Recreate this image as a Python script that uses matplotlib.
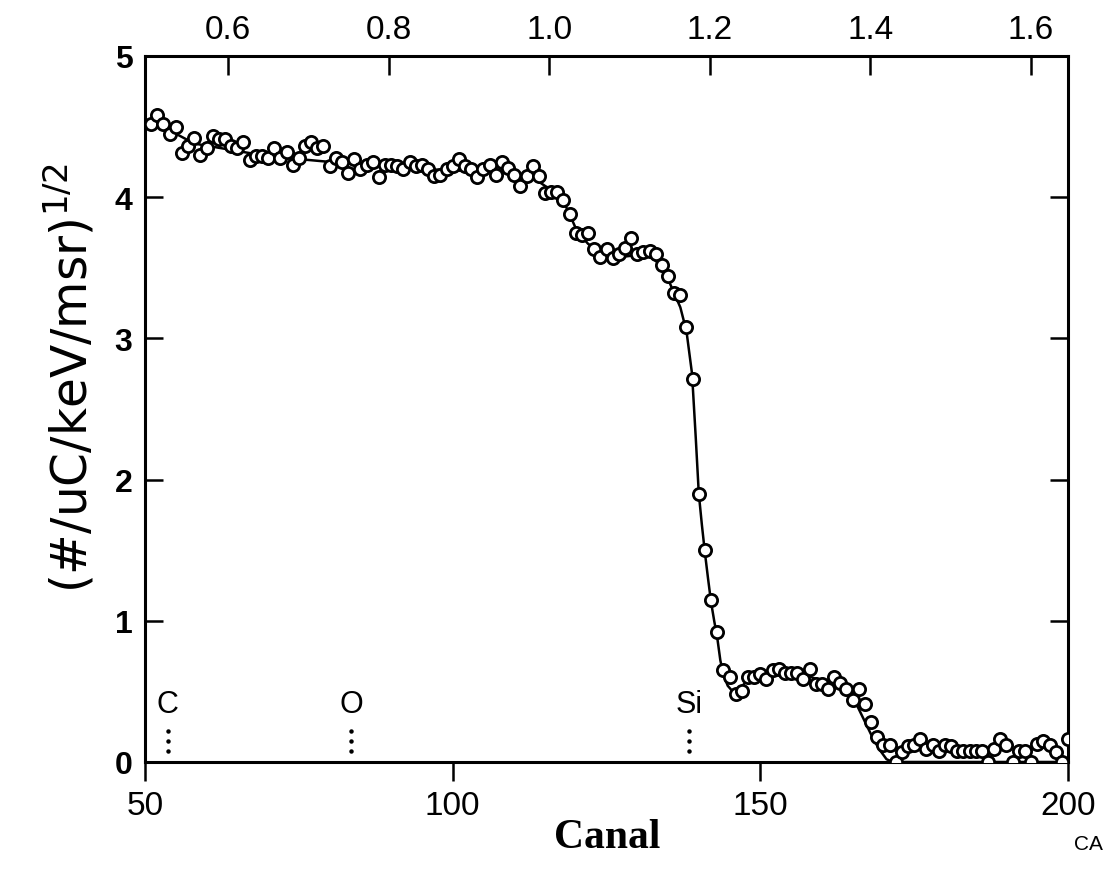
import numpy as np
import matplotlib
matplotlib.use("Agg")
import matplotlib.pyplot as plt

# measured spectrum, one point per channel (51..200)
channels = list(range(51, 201))
counts = [
    4.52, 4.58, 4.52, 4.45, 4.50, 4.31, 4.36, 4.42, 4.30, 4.35,
    4.43, 4.41, 4.41, 4.36, 4.35, 4.39, 4.26, 4.29, 4.29, 4.28,
    4.35, 4.28, 4.32, 4.23, 4.28, 4.36, 4.39, 4.35, 4.36, 4.22,
    4.28, 4.25, 4.17, 4.27, 4.20, 4.23, 4.25, 4.14, 4.23, 4.23,
    4.22, 4.20, 4.25, 4.22, 4.23, 4.20, 4.15, 4.16, 4.20, 4.22,
    4.27, 4.22, 4.20, 4.14, 4.20, 4.23, 4.16, 4.25, 4.21, 4.16,
    4.08, 4.15, 4.22, 4.15, 4.03, 4.04, 4.04, 3.98, 3.88, 3.75,
    3.73, 3.75, 3.63, 3.58, 3.63, 3.57, 3.60, 3.64, 3.71, 3.60,
    3.61, 3.62, 3.60, 3.52, 3.44, 3.32, 3.31, 3.08, 2.71, 1.90,
    1.50, 1.15, 0.92, 0.65, 0.60, 0.48, 0.50, 0.60, 0.60, 0.62,
    0.59, 0.65, 0.66, 0.63, 0.63, 0.63, 0.59, 0.66, 0.55, 0.55,
    0.52, 0.60, 0.56, 0.52, 0.44, 0.52, 0.41, 0.28, 0.18, 0.12,
    0.12, 0.00, 0.07, 0.11, 0.12, 0.16, 0.09, 0.12, 0.08, 0.12,
    0.11, 0.08, 0.08, 0.08, 0.08, 0.08, 0.00, 0.09, 0.16, 0.12,
    0.00, 0.08, 0.08, 0.00, 0.13, 0.15, 0.12, 0.07, 0.00, 0.16,
]

# simulated (fit) curve
fit_channels = [50, 52, 55, 58, 62, 66, 70, 75, 80, 85, 90, 95, 100, 105, 110,
                113, 115, 117, 118, 119, 120, 121, 122, 124, 126, 128, 130, 132,
                133, 134, 135, 136, 137, 138, 138.9, 139.5, 140, 140.5, 141,
                141.5, 142, 142.5, 143, 143.5, 144, 144.7, 145.5, 146.5, 147.5,
                149, 151, 153, 155, 157, 159, 161, 163, 164.5, 165.5, 166.5,
                167.5, 168.5, 169.5, 170.5, 171.5, 200]
fit_values = [4.55, 4.52, 4.45, 4.38, 4.35, 4.32, 4.29, 4.27, 4.25, 4.23, 4.21,
              4.20, 4.19, 4.18, 4.17, 4.14, 4.08, 4.03, 3.97, 3.88, 3.78, 3.72,
              3.67, 3.61, 3.58, 3.58, 3.59, 3.58, 3.55, 3.50, 3.42, 3.32, 3.22,
              3.05, 2.75, 2.30, 1.90, 1.68, 1.48, 1.30, 1.13, 1.00, 0.88, 0.72,
              0.62, 0.54, 0.50, 0.51, 0.56, 0.60, 0.63, 0.64, 0.64, 0.62, 0.59,
              0.56, 0.52, 0.48, 0.42, 0.33, 0.24, 0.15, 0.08, 0.02, 0.0, 0.0]

element_names = ["C", "O", "Si"]
element_channels = [53.7, 83.5, 138.4]

x_ticks = [50, 100, 150, 200]
y_ticks = [0, 1, 2, 3, 4, 5]
energy_ticks = [0.6, 0.8, 1.0, 1.2, 1.4, 1.6]


def ch_to_energy(ch):
    return 0.6 + (np.asarray(ch, dtype=float) - 63.5) * 0.2 / 26.1


def energy_to_ch(e):
    return 63.5 + (np.asarray(e, dtype=float) - 0.6) * 26.1 / 0.2


plt.rcParams['font.family'] = ['Liberation Sans', 'DejaVu Sans']

fig = plt.figure(figsize=(11.09, 8.79), dpi=100)
ax = fig.add_axes([145 / 1109, 1 - 763 / 879, (1068 - 145) / 1109, (763 - 57) / 879])

ax.plot(fit_channels, fit_values, color='black', lw=1.8, zorder=2)
ax.plot(channels, counts, 'o', mfc='white', mec='black', ms=8.8, mew=2.0, zorder=3)

# element surface positions
for name, ch in zip(element_names, element_channels):
    ax.plot([ch, ch, ch], [0.08, 0.15, 0.22], 'o', color='black', ms=2.2, zorder=4)
    ax.text(ch, 0.41, name, ha='center', va='center', fontsize=22)

ax.set_xlim(50, 200)
ax.set_ylim(0, 5)
ax.set_xticks(x_ticks)
ax.set_yticks(y_ticks)
ax.set_xticklabels([str(v) for v in x_ticks], fontsize=24)
ax.set_yticklabels([str(v) for v in y_ticks], fontsize=23, fontweight='bold')

for s in ax.spines.values():
    s.set_linewidth(2.2)

ax.tick_params(axis='x', direction='out', length=14, width=1.8, pad=6)
ax.tick_params(axis='y', direction='in', length=13, width=1.8, pad=9,
               right=True)

top = ax.secondary_xaxis('top', functions=(ch_to_energy, energy_to_ch))
top.set_xticks(energy_ticks)
top.set_xticklabels(['%.1f' % e for e in energy_ticks], fontsize=24)
top.tick_params(direction='in', length=14, width=1.8, pad=8)

fig.text(607 / 1109, 1 - 838 / 879, 'Canal', ha='center', va='center',
         fontsize=30, fontweight='bold', family='Liberation Serif')
fig.text(70 / 1109, 1 - 378 / 879, '(#/uC/keV/msr)$^{1/2}$', rotation=90,
         ha='center', va='center', fontsize=35, family='DejaVu Sans')
fig.text(1088 / 1109, 1 - 845 / 879, 'CA', ha='center', va='center', fontsize=15)

fig.savefig('out.png', dpi=100)
